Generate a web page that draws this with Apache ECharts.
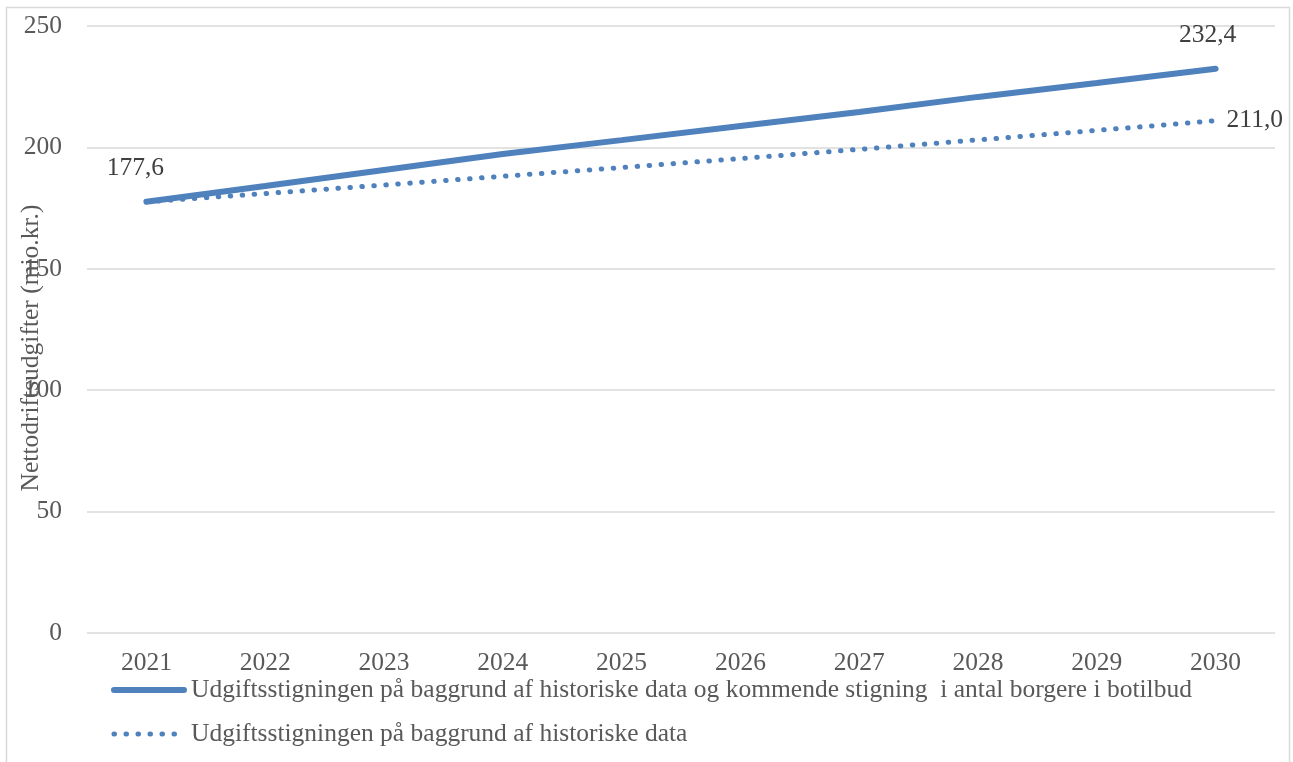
<!DOCTYPE html>
<html><head><meta charset="utf-8">
<script src="https://cdn.jsdelivr.net/npm/echarts@6/dist/echarts.min.js"></script>
<style>html,body{margin:0;padding:0;background:#fff}#c{width:1293px;height:762px}</style>
</head><body><div id="c"></div>
<script>
const years = ['2021','2022','2023','2024','2025','2026','2027','2028','2029','2030'];
const seriesWithBotilbud = [177.6, 184.1, 190.7, 197.3, 203.0, 208.8, 214.6, 220.8, 226.5, 232.4];
const seriesHistoric = [177.6, 181.0, 184.5, 188.1, 191.7, 195.4, 199.2, 203.1, 207.0, 211.0];
const name1 = 'Udgiftsstigningen på baggrund af historiske data og kommende stigning  i antal borgere i botilbud';
const name2 = 'Udgiftsstigningen på baggrund af historiske data';
const yTitle = 'Nettodriftsudgifter (mio.kr.)';

const FONT = 'Liberation Serif';
const FS = 25.5;
const TXT = '#595959';
const LBL = '#404040';
const BLUE = '#4f81bd';
const fmt = p => p.value.toFixed(1).replace('.', ',');
const chart = echarts.init(document.getElementById('c'), null, {renderer:'canvas'});

const d1 = seriesWithBotilbud.map((v,i)=>{
  const o = {value:v};
  if (i===0) o.label = {show:true, position:'top', offset:[-11,-15]};
  if (i===seriesWithBotilbud.length-1) o.label = {show:true, position:'top', offset:[-8,-15]};
  return o;
});
const d2 = seriesHistoric.map((v,i)=>{
  const o = {value:v};
  if (i===seriesHistoric.length-1) o.label = {show:true, position:'right', distance:11};
  return o;
});

chart.setOption({
  animation:false,
  textStyle:{fontFamily:FONT},
  graphic:[
    {type:'rect', shape:{x:6.5,y:7.5,width:1283,height:770}, style:{fill:'none', stroke:'#d9d9d9', lineWidth:1.5}, silent:true},
    {type:'text', x:31, y:348, rotation:Math.PI/2, silent:true,
      style:{text:yTitle, fill:TXT, font:FS+'px "'+FONT+'"', align:'center', verticalAlign:'middle'}}
  ],
  grid:{left:87, right:18, top:26, bottom:129, outerBoundsMode:'none', containLabel:false},
  xAxis:{type:'category', data:years, boundaryGap:true,
    axisLine:{show:false}, axisTick:{show:false},
    axisLabel:{color:TXT, fontSize:FS, fontFamily:FONT, margin:17}},
  yAxis:{type:'value', min:0, max:250, interval:50,
    axisLine:{show:false}, axisTick:{show:false},
    axisLabel:{color:TXT, fontSize:FS, fontFamily:FONT, margin:25},
    splitLine:{lineStyle:{color:'#d9d9d9', width:1.5}}},
  legend:{orient:'vertical', left:106, top:672, itemGap:18, itemWidth:70, itemHeight:8,
    itemStyle:{opacity:0},
    textStyle:{color:TXT, fontSize:FS, fontFamily:FONT, lineHeight:26, padding:[0,0,0,2]},
    data:[
      {name:name1, lineStyle:{width:6, cap:'round', type:'solid', color:BLUE}},
      {name:name2, lineStyle:{width:5, cap:'round', type:[0.5,11.5], color:BLUE}}
    ]},
  series:[
    {name:name1, type:'line', data:d1, showSymbol:true, symbol:'circle', symbolSize:0,
      lineStyle:{color:BLUE, width:6, cap:'round'}, itemStyle:{color:BLUE},
      label:{show:false, color:LBL, fontSize:FS, fontFamily:FONT, formatter:fmt}},
    {name:name2, type:'line', data:d2, showSymbol:true, symbol:'circle', symbolSize:0,
      lineStyle:{color:BLUE, width:5, type:[0.5,11.5], cap:'round'}, itemStyle:{color:BLUE},
      label:{show:false, color:LBL, fontSize:FS, fontFamily:FONT, formatter:fmt}}
  ]
});
</script></body></html>
